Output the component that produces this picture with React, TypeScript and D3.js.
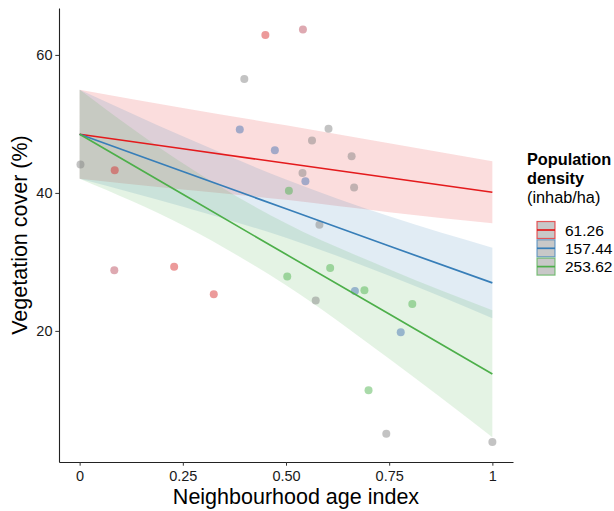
import React, { useEffect, useRef } from "react";
import * as d3 from "d3";

// observed points
const ageIndex = [0.45, 0.541, 0.399, 0.388, 0.603, 0.563, 0.473, 0.659, 0.54, 0.547, 0.507, 0.665, 0.581, 0.002, 0.085, 0.084, 0.229, 0.325, 0.503, 0.607, 0.572, 0.667, 0.69, 0.806, 0.778, 0.7, 0.743, 1.0];
const vegCover = [62.9, 63.7, 56.5, 49.2, 49.3, 47.6, 46.2, 45.3, 42.9, 41.7, 40.3, 40.8, 35.4, 44.1, 43.3, 28.8, 29.3, 25.3, 27.9, 29.1, 24.4, 25.8, 25.9, 23.9, 19.8, 11.4, 5.1, 3.9];
const pointGroup = ["red", "pink", "grey", "blue", "grey", "grey", "blue", "grey", "grey", "blue", "green", "grey", "grey", "grey", "red", "pink", "red", "red", "green", "green", "grey", "blue", "green", "green", "blue", "green", "grey", "grey"];

// fitted lines + confidence bands per density level
const densityLevels = ["61.26", "157.44", "253.62"];
const fitX = [0, 0.25, 0.5, 0.75, 1];
const fitRed = [48.5, 46.4, 44.3, 42.2, 40.1];
const lowRed = [42.05, 40.5, 39.0, 37.2, 35.6];
const upRed = [54.95, 52.3, 49.8, 47.2, 44.6];
const fitBlue = [48.5, 43.1, 37.7, 32.3, 26.96];
const lowBlue = [42.05, 38.0, 33.5, 28.0, 21.85];
const upBlue = [54.95, 48.2, 41.95, 36.6, 32.05];
const fitGreen = [48.5, 39.8, 31.1, 22.45, 13.77];
const lowGreen = [42.05, 35.3, 26.6, 15.95, 4.6];
const upGreen = [54.95, 44.3, 35.6, 28.95, 23.0];

const xTicks = [0, 0.25, 0.5, 0.75, 1];
const xTickLabels = ["0", "0.25", "0.50", "0.75", "1"];
const yTicks = [20, 40, 60];

const lineColors = ["#e41a1c", "#377eb8", "#4daf4a"];
const pointColors: Record<string, string> = {
  red: "#d62828",
  pink: "#b9485a",
  grey: "#7f7f7f",
  blue: "#3f6fb0",
  green: "#48b048",
};

const App = () => {
  const chartRef = useRef<HTMLDivElement>(null);

  useEffect(() => {
    const width = 614;
    const height = 511;
    const plot = { left: 59, right: 513, top: 8, bottom: 462 };
    const font = "Liberation Sans, Arial, Helvetica, sans-serif";

    d3.select(chartRef.current).select("svg").remove();

    const svg = d3
      .select(chartRef.current)
      .append("svg")
      .attr("width", width)
      .attr("height", height)
      .style("display", "block")
      .style("font-family", font);

    const x = d3.scaleLinear().domain([-0.05, 1.05]).range([plot.left, plot.right]);
    const y = d3.scaleLinear().domain([1.0, 66.8]).range([plot.bottom, plot.top]);

    const series = [
      { fit: fitRed, low: lowRed, up: upRed },
      { fit: fitBlue, low: lowBlue, up: upBlue },
      { fit: fitGreen, low: lowGreen, up: upGreen },
    ];

    const area = d3
      .area<number>()
      .x((d) => x(fitX[d]))
      .curve(d3.curveMonotoneX);

    // ribbons
    series.forEach((s, i) => {
      svg
        .append("path")
        .datum(fitX.map((_, j) => j))
        .attr("fill", lineColors[i])
        .attr("fill-opacity", 0.15)
        .attr(
          "d",
          area.y0((j) => y(s.low[j])).y1((j) => y(s.up[j]))
        );
    });

    // points
    svg
      .selectAll(".pt")
      .data(ageIndex.map((a, i) => ({ a, v: vegCover[i], g: pointGroup[i] })))
      .enter()
      .append("circle")
      .attr("class", "pt")
      .attr("cx", (d) => x(d.a))
      .attr("cy", (d) => y(d.v))
      .attr("r", 4)
      .attr("fill", (d) => pointColors[d.g])
      .attr("fill-opacity", 0.47);

    // fitted lines
    const line = d3
      .line<number>()
      .x((j) => x(fitX[j]));
    series.forEach((s, i) => {
      svg
        .append("path")
        .datum(fitX.map((_, j) => j))
        .attr("fill", "none")
        .attr("stroke", lineColors[i])
        .attr("stroke-width", 1.7)
        .attr("d", line.y((j) => y(s.fit[j])));
    });

    // Y-axis
    const yAxis = svg
      .append("g")
      .attr("transform", `translate(${plot.left},0)`)
      .call(d3.axisLeft(y).tickValues(yTicks).tickSize(3.7).tickSizeOuter(0));
    yAxis.select(".domain").attr("stroke", "#222").attr("stroke-width", 1.1);
    yAxis.selectAll(".tick line").attr("stroke", "#333");
    yAxis
      .selectAll(".tick text")
      .attr("fill", "#1a1a1a")
      .attr("font-size", 14.5)
      .attr("font-family", font)
      .attr("x", -6.5);

    // X-axis
    const xAxis = svg
      .append("g")
      .attr("transform", `translate(0,${plot.bottom})`)
      .call(
        d3
          .axisBottom(x)
          .tickValues(xTicks)
          .tickFormat((d, i) => xTickLabels[i])
          .tickSize(3.7)
          .tickSizeOuter(0)
      );
    xAxis.select(".domain").attr("stroke", "#222").attr("stroke-width", 1.1);
    xAxis.selectAll(".tick line").attr("stroke", "#333");
    xAxis
      .selectAll(".tick text")
      .attr("fill", "#1a1a1a")
      .attr("font-size", 14.5)
      .attr("font-family", font)
      .attr("y", 9);

    // axis titles
    svg
      .append("text")
      .attr("x", (plot.left + plot.right) / 2 + 10)
      .attr("y", 504)
      .attr("text-anchor", "middle")
      .attr("font-size", 21.5)
      .attr("fill", "#000")
      .text("Neighbourhood age index");

    svg
      .append("text")
      .attr("transform", `translate(27,${(plot.top + plot.bottom) / 2}) rotate(-90)`)
      .attr("text-anchor", "middle")
      .attr("font-size", 21.5)
      .attr("fill", "#000")
      .text("Vegetation cover (%)");

    // legend
    const legend = svg.append("g").attr("transform", "translate(527,0)");
    legend
      .append("text")
      .attr("x", 0)
      .attr("y", 165)
      .attr("font-size", 16.3)
      .attr("font-weight", "bold")
      .text("Population");
    legend
      .append("text")
      .attr("x", 0)
      .attr("y", 184)
      .attr("font-size", 16.3)
      .attr("font-weight", "bold")
      .text("density");
    legend
      .append("text")
      .attr("x", 0)
      .attr("y", 203)
      .attr("font-size", 16.3)
      .text("(inhab/ha)");

    densityLevels.forEach((lab, i) => {
      const top = 221.5 + i * 18.3;
      legend
        .append("rect")
        .attr("x", 10)
        .attr("y", top)
        .attr("width", 18)
        .attr("height", 17)
        .attr("fill", "#c8c8c8")
        .attr("stroke", lineColors[i])
        .attr("stroke-opacity", 0.7)
        .attr("stroke-width", 1.2);
      legend
        .append("line")
        .attr("x1", 10)
        .attr("x2", 28)
        .attr("y1", top + 8.5)
        .attr("y2", top + 8.5)
        .attr("stroke", lineColors[i])
        .attr("stroke-width", 1.7);
      legend
        .append("text")
        .attr("x", 38)
        .attr("y", top + 8.5)
        .attr("dy", "0.36em")
        .attr("font-size", 15.5)
        .text(lab);
    });
  }, []);

  return (
    <div
      ref={chartRef}
      style={{ position: "absolute", left: 0, top: 0, width: 614, height: 511 }}
    ></div>
  );
};

export default App;
